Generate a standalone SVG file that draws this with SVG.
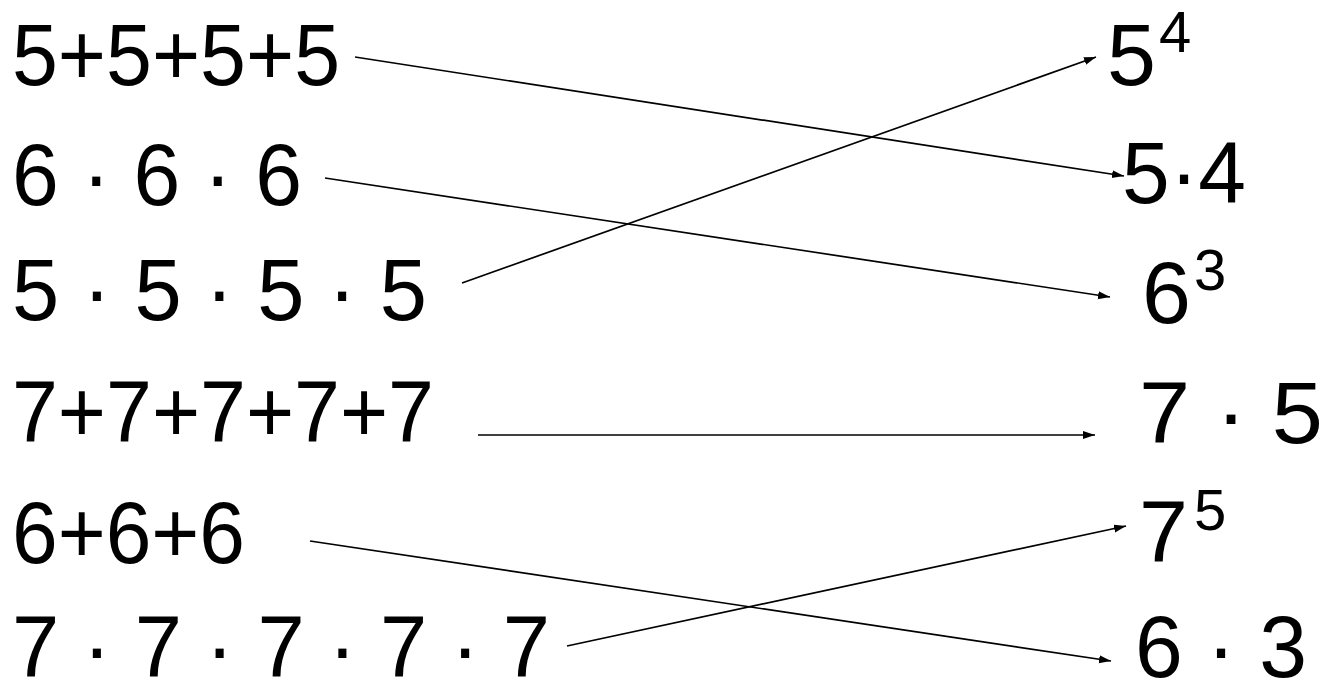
<svg xmlns="http://www.w3.org/2000/svg" width="1323" height="683" viewBox="0 0 1323 683">
<style>
.t{font-family:"Liberation Sans",Arial,sans-serif;font-size:88px;fill:#000}
.s{font-family:"Liberation Sans",Arial,sans-serif;font-size:58px;fill:#000}
.c{stroke:#000;stroke-width:1.7;fill:none;marker-end:url(#ah)}
</style>
<defs>
<marker id="ah" markerUnits="userSpaceOnUse" markerWidth="13" markerHeight="9" refX="12" refY="4" orient="auto">
<path d="M0,0 L12,4 L0,8 z" fill="#000"/>
</marker>
</defs>
<rect width="1323" height="683" fill="#fff"/>
<g id="left">
<g id="l1"><text class="t" x="12" y="85" textLength="328" lengthAdjust="spacingAndGlyphs">5+5+5+5</text></g>
<g id="l2"><text class="t" x="12" y="205" textLength="290" lengthAdjust="spacingAndGlyphs">6 · 6 · 6</text></g>
<g id="l3"><text class="t" x="12" y="320" textLength="415" lengthAdjust="spacingAndGlyphs">5 · 5 · 5 · 5</text></g>
<g id="l4"><text class="t" x="12" y="442" textLength="422" lengthAdjust="spacingAndGlyphs">7+7+7+7+7</text></g>
<g id="l5"><text class="t" x="12" y="563" textLength="233" lengthAdjust="spacingAndGlyphs">6+6+6</text></g>
<g id="l6"><text class="t" x="12" y="677" textLength="538" lengthAdjust="spacingAndGlyphs">7 · 7 · 7 · 7 · 7</text></g>
</g>
<g id="right">
<g id="r1"><text class="t" x="1107" y="85">5</text><text class="s" x="1159" y="52">4</text></g>
<g id="r2"><text class="t" x="1122" y="203" textLength="124" lengthAdjust="spacingAndGlyphs">5·4</text></g>
<g id="r3"><text class="t" x="1142" y="323">6</text><text class="s" x="1194" y="290">3</text></g>
<g id="r4"><text class="t" x="1139" y="443" textLength="184" lengthAdjust="spacingAndGlyphs">7 · 5</text></g>
<g id="r5"><text class="t" x="1139" y="562">7</text><text class="s" x="1194" y="530">5</text></g>
<g id="r6"><text class="t" x="1135" y="677" textLength="172" lengthAdjust="spacingAndGlyphs">6 · 3</text></g>
</g>
<g id="connectors">
<line class="c" x1="355" y1="57" x2="1124" y2="176"/>
<line class="c" x1="325" y1="178" x2="1110" y2="297"/>
<line class="c" x1="462" y1="283" x2="1096" y2="57"/>
<line class="c" x1="478" y1="435" x2="1095" y2="435"/>
<line class="c" x1="310" y1="541" x2="1111" y2="661"/>
<line class="c" x1="567" y1="646" x2="1126" y2="526"/>
</g>
</svg>
